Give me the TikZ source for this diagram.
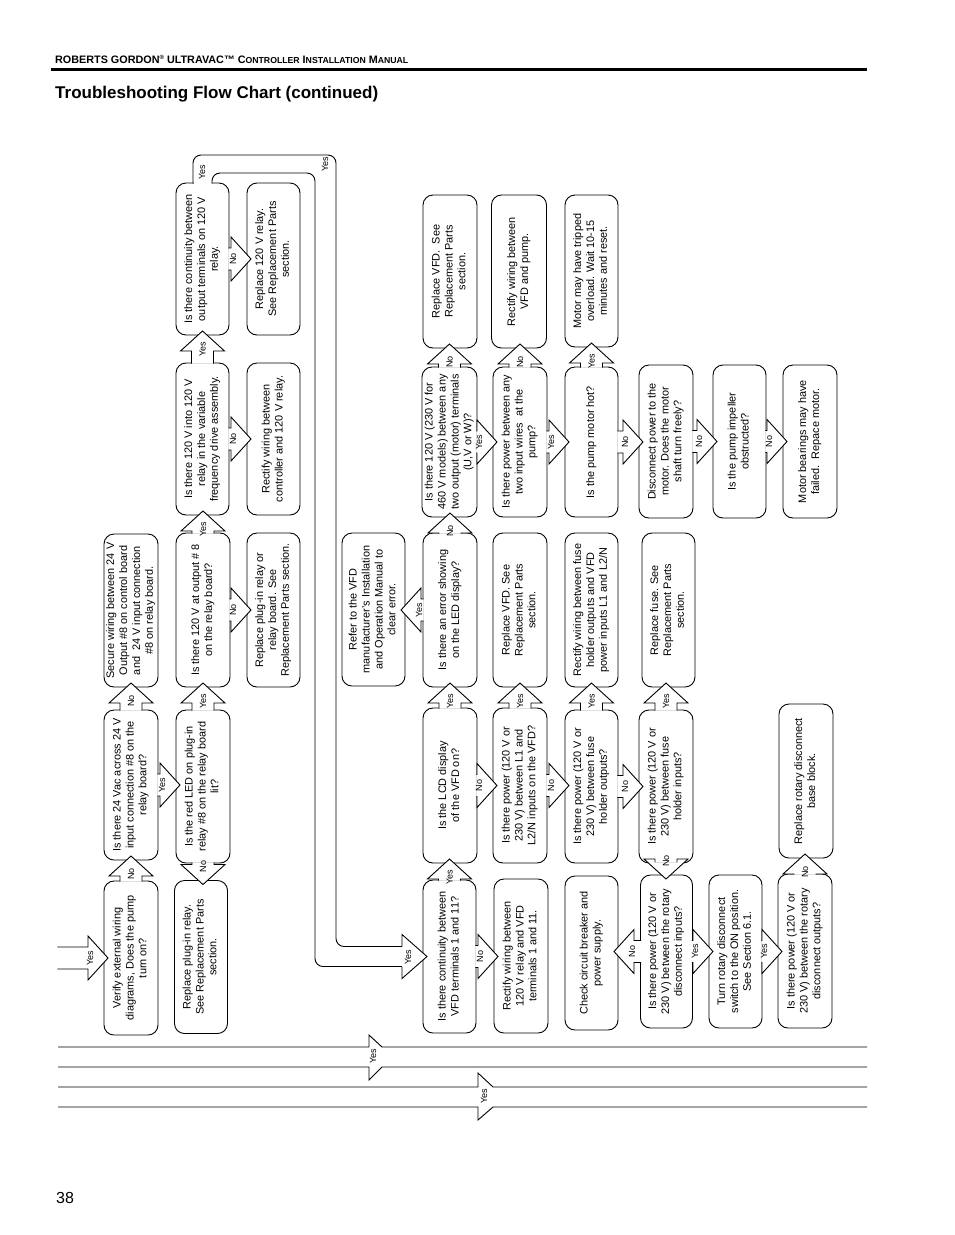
\documentclass[tikz,border=0pt]{standalone}
\usepackage{fontspec}
\setmainfont{Liberation Sans}
\usepackage{graphicx}
\usetikzlibrary{calc}
\newcommand{\bx}[1]{\rotatebox{90}{\begin{tabular}{@{}c@{}}#1\end{tabular}}}
\begin{document}
\begin{tikzpicture}[x=1pt,y=-1pt,
  wire/.style={line width=0.9pt, line join=miter},
  box/.style={draw, line width=0.9pt, rounded corners=10pt, fill=white, inner sep=0pt, outer sep=0pt,
    minimum width=54pt, minimum height=153pt, font=\fontsize{10.9}{12.9}\selectfont},
  lbl/.style={rotate=90, font=\fontsize{9}{10}\selectfont, inner sep=0pt},
  barrow/.style={draw, fill=white, line width=0.9pt, line join=miter,
    to path={let \p1=(\tikztostart), \p2=(\tikztotarget), \n1={atan2(\y2-\y1,\x2-\x1)} in
      ($(\p1)+(\n1+180:0.7pt)+(\n1+90:11pt)$) -- ($(\p2)+(\n1+180:16pt)+(\n1+90:11pt)$)
      -- ($(\p2)+(\n1+180:16pt)+(\n1+90:22pt)$) -- ($(\p2)+(\n1:4pt)$)
      -- ($(\p2)+(\n1+180:16pt)+(\n1-90:22pt)$) -- ($(\p2)+(\n1+180:16pt)+(\n1-90:11pt)$)
      -- ($(\p1)+(\n1+180:0.7pt)+(\n1-90:11pt)$)
      node[lbl] at ($(\p2)+(\n1+180:14pt)$) {#1}}},
]
\useasboundingbox (0,0) rectangle (954,1235);
\fill[white] (0,0) rectangle (954,1235);

% header
\node[anchor=base west, inner sep=0pt, font=\bfseries\fontsize{10.8}{12}\selectfont] (hdr) at (55,63)
  {ROBERTS GORDON{\fontsize{6}{6}\selectfont\raisebox{3.2pt}{®}} ULTRAVAC™ C{\fontsize{8.7}{10}\selectfont ONTROLLER} I{\fontsize{8.7}{10}\selectfont NSTALLATION} M{\fontsize{8.7}{10}\selectfont ANUAL}};
\draw[line width=2.2pt] (51,69.5) -- (867,69.5);
\node[anchor=base west, inner sep=0pt, font=\bfseries\fontsize{17}{20}\selectfont] (title) at (55,98) {Troubleshooting Flow Chart (continued)};
\node[anchor=base west, inner sep=0pt, font=\fontsize{16}{18}\selectfont] (pagenum) at (56,1203) {38};

% column A
\node[box, minimum height=154pt] (verify) at (131,958) {\bx{Verify external wiring\\diagrams, Does the pump\\turn on?}};
\node[box, minimum height=150pt] (vac24) at (131,785) {\bx{Is there 24 Vac across 24 V\\input connection \#8 on the\\relay board?}};
\node[box] (secure) at (131,610.5) {\bx{Secure wiring between 24 V\\Output \#8 on control board\\and\ \ 24 V input connection\\\#8 on relay board.}};
% column B
\node[box, minimum width=53pt] (replplug) at (201,957) {\bx{Replace plug-in relay.\\See Replacement Parts\\section.}};
\node[box] (redled) at (203,786.5) {\bx{Is the red LED on plug-in\\relay \#8 on the relay board\\lit?}};
\node[box, minimum height=154pt] (out8) at (203,610) {\bx{Is there 120 V at output \# 8\\on the relay board?}};
\node[box, minimum width=53pt, minimum height=152pt] (into120) at (202.5,439) {\bx{Is there 120 V into 120 V\\relay in the variable\\frequency drive assembly.}};
\node[box, minimum width=53pt, minimum height=152pt] (cont120) at (202.5,259) {\bx{Is there continuity between\\output terminals on 120 V\\relay.}};
% column C
\node[box, minimum width=53pt, minimum height=154pt] (replboard) at (273.5,610) {\bx{Replace plug-in relay or\\relay board. See\\Replacement Parts section.}};
\node[box, minimum width=53pt, minimum height=152pt] (rectctrl) at (273.5,439) {\bx{Rectify wiring between\\controller and 120 V relay.}};
\node[box, minimum width=53pt, minimum height=152pt] (repl120) at (273.5,259) {\bx{Replace 120 V relay.\\See Replacement Parts\\section.}};
% column D
\node[box, minimum width=63pt] (refer) at (373.5,609.5) {\bx{Refer to the VFD\\manufacturer's Installation\\and Operation Manual to\\clear error.}};
% column E
\node[box, minimum width=53pt] (vfd11) at (449.5,956.5) {\bx{Is there continuity between\\VFD terminals 1 and 11?}};
\node[box, minimum height=155pt] (lcd) at (450,785.5) {\bx{Is the LCD display\\of the VFD on?}};
\node[box, minimum height=154pt] (error) at (450,610) {\bx{Is there an error showing\\on the LED display?}};
\node[box, minimum width=55pt, minimum height=150pt] (out230) at (449.5,442) {\bx{Is there 120 V (230 V for\\460 V models) between any\\two output (motor) terminals\\(U,V or W)?}};
\node[box] (replvfdA) at (450,271.5) {\bx{Replace VFD.\ \ See\\Replacement Parts\\section.}};
% column F
\node[box, minimum height=154pt] (rect120vfd) at (521,956) {\bx{Rectify wiring between\\120 V relay and VFD\\terminals 1 and 11.}};
\node[box, minimum height=155pt] (l1) at (520,785.5) {\bx{Is there power (120 V or\\230 V) between L1 and\\L2/N inputs on the VFD?}};
\node[box, minimum height=154pt] (replvfdB) at (520,610) {\bx{Replace VFD. See\\Replacement Parts\\section.}};
\node[box, minimum height=150pt] (pumpwires) at (520,442) {\bx{Is there power between any\\two input wires\ \ at the\\pump?}};
\node[box, minimum width=55pt] (rectpump) at (519,271.5) {\bx{Rectify wiring between\\VFD and pump.}};
% column G
\node[box, minimum width=53pt, minimum height=154pt] (check) at (591.5,953) {\bx{Check circuit breaker and\\power supply.}};
\node[box, minimum width=53pt] (fuseout) at (591.5,786.5) {\bx{Is there power (120 V or\\230 V) between fuse\\holder outputs?}};
\node[box, minimum width=53pt, minimum height=154pt] (rectfuse) at (591.5,610) {\bx{Rectify wiring between fuse\\holder outputs and VFD\\power inputs L1 and L2/N}};
\node[box, minimum width=53pt, minimum height=150pt] (motorhot) at (591.5,442) {\bx{Is the pump motor hot?}};
\node[box, minimum width=53pt, minimum height=152pt] (tripped) at (591.5,271) {\bx{Motor may have tripped\\overload. Wait 10-15\\minutes and reset.}};
% column H
\node[box, minimum width=52pt] (rotin) at (666.5,951.5) {\bx{Is there power (120 V or\\230 V) between the rotary\\disconnect inputs?}};
\node[box] (fusein) at (666,786.5) {\bx{Is there power (120 V or\\230 V) between fuse\\holder inputs?}};
\node[box, minimum width=53pt, minimum height=154pt] (replfuse) at (668.5,610) {\bx{Replace fuse. See\\Replacement Parts\\section.}};
\node[box] (disconnect) at (666,441.5) {\bx{Disconnect power to the\\motor. Does the motor\\shaft turn freely?}};
% column I
\node[box, minimum width=53pt] (turnrot) at (735.5,951.5) {\bx{Turn rotary disconnect\\switch to the ON position.\\See Section 6.1.}};
\node[box, minimum width=53pt] (impeller) at (739.5,441.5) {\bx{Is the pump impeller\\obstructed?}};
% column J
\node[box, minimum height=154pt] (rotout) at (805,951) {\bx{Is there power (120 V or\\230 V) between the rotary\\disconnect outputs?}};
\node[box, minimum height=154pt] (replbase) at (806,781) {\bx{Replace rotary disconnect\\base block.}};
\node[box] (bearings) at (810,441.5) {\bx{Motor bearings may have\\failed.\ \ Repace motor.}};

% incoming and bottom bands
\coordinate (inL) at (58,958);
\coordinate (bandAL) at (58,1057);
\coordinate (bandAR) at (867,1057);
\coordinate (bandBL) at (58,1097);
\coordinate (bandBR) at (867,1097);
\draw[wire] (58,1047) -- (369,1047) -- (369,1035) -- (382,1047) -- (867,1047);
\draw[wire] (58,1067) -- (369,1067) -- (369,1080) -- (382,1067) -- (867,1067);
\draw[wire] (58,1087) -- (478,1087) -- (478,1073) -- (493,1087) -- (867,1087);
\draw[wire] (58,1107) -- (478,1107) -- (478,1120) -- (493,1107) -- (867,1107);
\node[lbl] (ybandA) at (373,1056) {Yes};
\node[lbl] (ybandB) at (484,1096) {Yes};

% arrows
\draw[barrow=Yes] (inL) to (verify.west);
\draw[barrow=No] (verify.north) to (verify.north |- vac24.south);
\draw[barrow=No] (vac24.north) to (vac24.north |- secure.south);
\draw[barrow=Yes] (vac24.east) to (vac24.east -| redled.west);
\draw[barrow=Yes] (redled.north) to (redled.north |- out8.south);
\draw[barrow=No] (redled.south) to (redled.south |- replplug.north);
\draw[barrow=No] (out8.east) to (out8.east -| replboard.west);
\draw[barrow=Yes] (out8.north) to (out8.north |- into120.south);
\draw[barrow=No] (into120.east) to (into120.east -| rectctrl.west);
\draw[barrow=Yes] (into120.north) to (into120.north |- cont120.south);
\draw[barrow=No] (cont120.east) to (cont120.east -| repl120.west);
\draw[barrow=No] (vfd11.east) to (vfd11.east -| rect120vfd.west);
\draw[barrow=Yes] (vfd11.north) to (vfd11.north |- lcd.south);
\draw[barrow=No] (lcd.east) to (lcd.east -| l1.west);
\draw[barrow=Yes] (lcd.north) to (lcd.north |- error.south);
\draw[barrow=Yes] (error.west) to (error.west -| refer.east);
\draw[barrow=No] (error.north) to (error.north |- out230.south);
\draw[barrow=No] (out230.north) to (out230.north |- replvfdA.south);
\draw[barrow=Yes] (out230.east) to (out230.east -| pumpwires.west);
\draw[barrow=No] (pumpwires.north) to (pumpwires.north |- rectpump.south);
\draw[barrow=Yes] (pumpwires.east) to (pumpwires.east -| motorhot.west);
\draw[barrow=Yes] (motorhot.north) to (motorhot.north |- tripped.south);
\draw[barrow=No] (motorhot.east) to (motorhot.east -| disconnect.west);
\draw[barrow=No] (disconnect.east) to (disconnect.east -| impeller.west);
\draw[barrow=No] (impeller.east) to (impeller.east -| bearings.west);
\draw[barrow=Yes] (l1.north) to (l1.north |- replvfdB.south);
\draw[barrow=No] (l1.east) to (l1.east -| fuseout.west);
\draw[barrow=Yes] (fuseout.north) to (fuseout.north |- rectfuse.south);
\draw[barrow=No] (fuseout.east) to (fuseout.east -| fusein.west);
\draw[barrow=Yes] (fusein.north) to (fusein.north |- replfuse.south);
\draw[barrow=No] (fusein.south) to (fusein.south |- rotin.north);
\draw[barrow=No] (rotin.west) to (rotin.west -| check.east);
\draw[barrow=Yes] (rotin.east) to (rotin.east -| turnrot.west);
\draw[barrow=Yes] (turnrot.east) to (turnrot.east -| rotout.west);
\draw[barrow=No] (rotout.north) to (rotout.north |- replbase.south);

% loop from continuity (120 V relay) to VFD terminals
\coordinate (loopend) at (402,956.5);
\fill[white] ([xshift=-9pt,yshift=1.2pt]cont120.north) rectangle ([xshift=9pt,yshift=-1.4pt]cont120.north);
\draw[wire, rounded corners=8pt] ([xshift=-9.5pt,yshift=-0.7pt]cont120.north) |- (336,155) |- ([yshift=10pt]loopend);
\draw[wire, rounded corners=8pt] ([xshift=9.5pt,yshift=-0.7pt]cont120.north) |- (315,173) |- ([yshift=-10pt]loopend);
\draw[wire, fill=white] ([yshift=10pt]loopend) -- ([yshift=22pt]loopend) -- ([xshift=4pt]vfd11.west) -- ([yshift=-22pt]loopend) -- ([yshift=-10pt]loopend);
\node[lbl] (yloopA) at (202,172) {Yes};
\node[lbl] (yloopB) at (325,164) {Yes};
\node[lbl] (yloopC) at (408,957) {Yes};
\end{tikzpicture}
\end{document}
